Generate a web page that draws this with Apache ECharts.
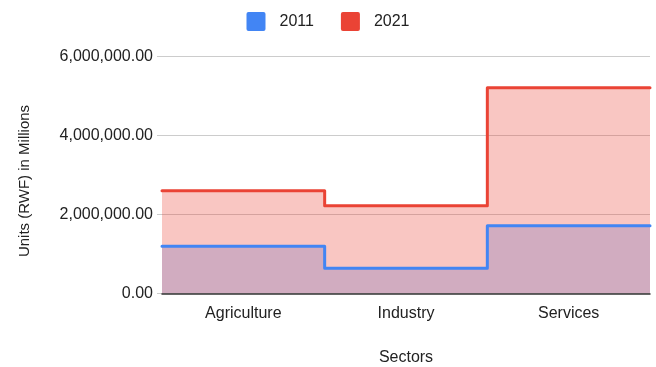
<!DOCTYPE html>
<html>
<head>
<meta charset="utf-8">
<script src="https://cdn.jsdelivr.net/npm/echarts@6/dist/echarts.min.js"></script>
<style>
  html, body { margin: 0; padding: 0; background: #fff; }
  #chart { width: 656px; height: 367px; }
</style>
</head>
<body>
<div id="chart"></div>
<script>
// Sector output, units in RWF
const sectors = ['Agriculture', 'Industry', 'Services'];
const values2011 = [1195000, 638000, 1716000];
const values2021 = [2600000, 2220000, 5210000];
const yTicks = [0, 2000000, 4000000, 6000000];

const blue = '#4285F4';
const red = '#EA4335';
const font = 'Arial, "Liberation Sans", sans-serif';
// square legend swatch with slightly rounded corners
const swatch = 'path://M2,0H17A2,2,0,0,1,19,2V17A2,2,0,0,1,17,19H2A2,2,0,0,1,0,17V2A2,2,0,0,1,2,0Z';

// Each category occupies one unit on a hidden value axis [0, n];
// the last value is repeated so the final step spans its whole band.
function stepPoints(vals) {
  const pts = vals.map((v, i) => [i, v]);
  pts.push([vals.length, vals[vals.length - 1]]);
  return pts;
}

function areaSeries(name, vals, color) {
  return {
    name: name, type: 'line', xAxisIndex: 1, step: 'end',
    data: stepPoints(vals), symbol: 'none', silent: true,
    itemStyle: { color: color },
    lineStyle: { width: 0, opacity: 0 },
    areaStyle: { color: color, opacity: 0.3 },
    z: 2
  };
}

function lineSeries(name, vals, color) {
  return {
    name: name, type: 'line', xAxisIndex: 1, step: 'end',
    data: stepPoints(vals), symbol: 'none',
    itemStyle: { color: color },
    lineStyle: { width: 3, color: color, join: 'round', cap: 'round' },
    z: 3
  };
}

const chart = echarts.init(document.getElementById('chart'), null, { renderer: 'canvas' });
chart.setOption({
  animation: false,
  textStyle: { fontFamily: font },
  legend: {
    top: 7, left: 'center',
    data: [
      { name: '2011', itemStyle: { color: blue } },
      { name: '2021', itemStyle: { color: red } }
    ],
    icon: swatch, itemWidth: 19, itemHeight: 19, itemGap: 27,
    textStyle: { fontSize: 16, color: '#222', fontFamily: font, padding: [0, 0, 0, 9] }
  },
  grid: {
    left: 162, right: 6, top: 56.5, bottom: 73.5,
    containLabel: false, outerBoundsMode: 'none'
  },
  xAxis: [
    {
      type: 'category', data: sectors, boundaryGap: true, z: 10,
      axisLine: { show: true, lineStyle: { color: '#333', width: 1.5 } },
      axisTick: { show: false },
      axisLabel: { fontSize: 16, color: '#222', margin: 12, fontFamily: font },
      name: 'Sectors', nameLocation: 'middle', nameGap: 56,
      nameTextStyle: { fontSize: 16, color: '#222', fontFamily: font }
    },
    {
      type: 'value', min: 0, max: sectors.length, show: false
    }
  ],
  yAxis: {
    type: 'value', min: yTicks[0], max: yTicks[yTicks.length - 1],
    interval: yTicks[1] - yTicks[0],
    axisLine: { show: false },
    axisTick: { show: true, length: 5, lineStyle: { color: '#ccc' } },
    splitLine: { lineStyle: { color: '#ccc', width: 1 } },
    axisLabel: {
      fontSize: 16, color: '#222', margin: 9, fontFamily: font, padding: [3, 0, 0, 0],
      formatter: v => v.toLocaleString('en-US', { minimumFractionDigits: 2, maximumFractionDigits: 2 })
    },
    name: 'Units (RWF) in Millions', nameLocation: 'middle', nameGap: 130,
    nameTextStyle: { fontSize: 15, color: '#222', fontFamily: font, padding: [0, 12, 0, 0] }
  },
  series: [
    areaSeries('2011', values2011, blue),
    areaSeries('2021', values2021, red),
    lineSeries('2011', values2011, blue),
    lineSeries('2021', values2021, red)
  ]
});
</script>
</body>
</html>
